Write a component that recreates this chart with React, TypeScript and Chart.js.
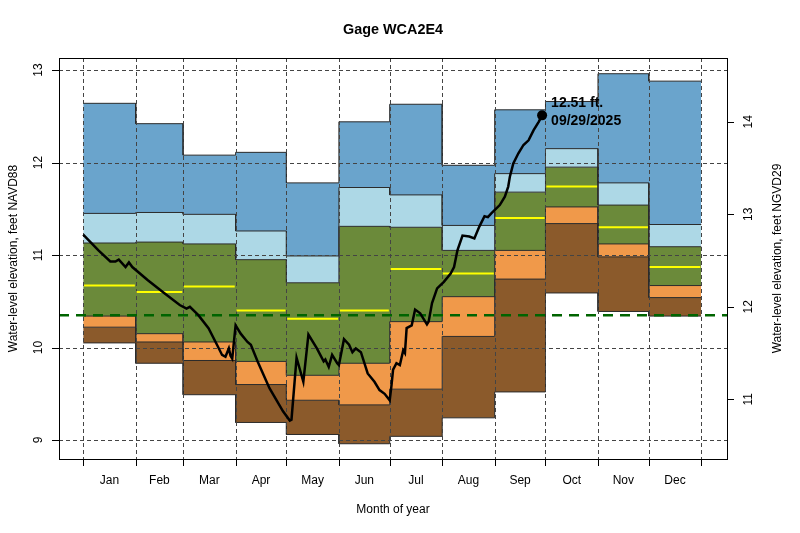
import { useEffect, useRef } from "react";
import { Chart, registerables } from "chart.js";

Chart.register(...registerables);

const FONT = '"Liberation Sans", Arial, Helvetica, sans-serif';

// month boxes (day of year, Jan 1 = 1)
const months = ["Jan", "Feb", "Mar", "Apr", "May", "Jun", "Jul", "Aug", "Sep", "Oct", "Nov", "Dec"];
const monthStarts = [1, 32, 60, 91, 121, 152, 182, 213, 244, 274, 305, 335, 366];

// monthly statistics, feet NAVD88
const maxVals = [12.64, 12.42, 12.08, 12.11, 11.78, 12.44, 12.63, 11.97, 12.57, 12.66, 12.96, 12.88];
const p90Vals = [11.45, 11.46, 11.44, 11.26, 10.99, 11.73, 11.65, 11.32, 11.88, 12.15, 11.78, 11.33];
const p75Vals = [11.13, 11.14, 11.12, 10.95, 10.7, 11.31, 11.3, 11.05, 11.68, 11.95, 11.54, 11.09];
const medianVals = [10.67, 10.6, 10.66, 10.4, 10.31, 10.4, 10.85, 10.8, 11.4, 11.74, 11.3, 10.87];
const p25Vals = [10.34, 10.15, 10.06, 9.85, 9.7, 9.83, 10.28, 10.55, 11.05, 11.52, 11.12, 10.67];
const p10Vals = [10.22, 10.06, 9.86, 9.6, 9.43, 9.38, 9.55, 10.12, 10.74, 11.34, 10.98, 10.54];
const minVals = [10.05, 9.83, 9.49, 9.19, 9.06, 8.96, 9.04, 9.24, 9.52, 10.59, 10.39, 10.34];

// 2025 daily water level
const dailyDays = [
  1, 10, 17, 20, 22, 26, 28, 30, 39, 48, 58, 62, 64, 69, 75, 80, 83, 85, 87, 88, 89, 91, 94, 98, 100,
  104, 111, 119, 123, 124, 127, 131, 134, 139, 143, 144, 146, 148, 151, 152, 155, 158, 160, 162, 165,
  169, 173, 176, 179, 182, 183, 184, 186, 188, 190, 191, 192, 195, 197, 200, 204, 205, 207, 210, 214,
  218, 220, 222, 225, 229, 232, 235, 238, 240, 242, 247, 250, 252, 253, 255, 258, 261, 264, 267, 270, 272,
];
const dailyLevels = [
  11.22, 11.05, 10.93, 10.93, 10.95, 10.87, 10.92, 10.87, 10.73, 10.6, 10.46, 10.42, 10.44, 10.35, 10.21,
  10.03, 9.92, 9.9, 9.99, 9.91, 9.88, 10.24, 10.15, 10.06, 10.03, 9.85, 9.56, 9.31, 9.21, 9.22, 9.89, 9.63,
  10.14, 9.99, 9.85, 9.87, 9.79, 9.92, 9.83, 9.81, 10.09, 10.03, 9.95, 9.99, 9.95, 9.72, 9.63, 9.54, 9.5,
  9.43, 9.58, 9.76, 9.83, 9.81, 9.97, 9.94, 10.21, 10.24, 10.41, 10.37, 10.25, 10.28, 10.48, 10.64, 10.71,
  10.8, 10.87, 11.05, 11.21, 11.2, 11.18, 11.31, 11.42, 11.41, 11.45, 11.54, 11.63, 11.74, 11.85, 11.99,
  12.1, 12.19, 12.24, 12.35, 12.44, 12.51,
];

const lastDay = 272;
const lastLevel = 12.51;
const lastLabel = ["12.51 ft.", "09/29/2025"];
const referenceLevel = 10.35;

const leftTicks = [9, 10, 11, 12, 13];
const rightTicks = [11, 12, 13, 14];
const ngvdOffset = 1.56; // NGVD29 = NAVD88 + offset

const xMin = -13.3;
const xMax = 381.2;

const steps = (vals: number[]) =>
  vals.flatMap((v, i) => [
    { x: monthStarts[i], y: v },
    { x: monthStarts[i + 1], y: v },
  ]);

const rPlugin = {
  id: "rstyle",
  beforeDatasetDraw(chart: any, args: any) {
    if (chart.data.datasets[args.index].label !== "Median") return;
    const { ctx, chartArea: a, scales } = chart;
    ctx.save();
    ctx.strokeStyle = "#444";
    ctx.lineWidth = 1;
    ctx.setLineDash([4, 3]);
    ctx.beginPath();
    for (const t of leftTicks) {
      const py = Math.round(scales.y.getPixelForValue(t)) + 0.5;
      ctx.moveTo(a.left, py);
      ctx.lineTo(a.right, py);
    }
    for (const d of monthStarts) {
      const px = Math.round(scales.x.getPixelForValue(d)) + 0.5;
      ctx.moveTo(px, a.top);
      ctx.lineTo(px, a.bottom);
    }
    ctx.stroke();
    ctx.restore();
  },
  afterDraw(chart: any) {
    const { ctx, chartArea: a, scales } = chart;
    const xs = scales.x;
    const ys = scales.y;
    ctx.save();
    ctx.strokeStyle = "#000";
    ctx.lineWidth = 1;
    ctx.strokeRect(Math.round(a.left) + 0.5, Math.round(a.top) + 0.5, Math.round(a.right - a.left), Math.round(a.bottom - a.top));

    ctx.fillStyle = "#000";
    ctx.font = `12px ${FONT}`;
    ctx.textAlign = "center";
    ctx.textBaseline = "middle";

    // left axis
    ctx.beginPath();
    for (const t of leftTicks) {
      const py = Math.round(ys.getPixelForValue(t)) + 0.5;
      ctx.moveTo(a.left - 7, py);
      ctx.lineTo(a.left, py);
    }
    // right axis
    for (const t of rightTicks) {
      const py = Math.round(ys.getPixelForValue(t - ngvdOffset)) + 0.5;
      ctx.moveTo(a.right, py);
      ctx.lineTo(a.right + 7, py);
    }
    // bottom axis
    for (const d of monthStarts) {
      const px = Math.round(xs.getPixelForValue(d)) + 0.5;
      ctx.moveTo(px, a.bottom);
      ctx.lineTo(px, a.bottom + 7);
    }
    ctx.stroke();

    for (const t of leftTicks) {
      ctx.save();
      ctx.translate(a.left - 20, ys.getPixelForValue(t));
      ctx.rotate(-Math.PI / 2);
      ctx.fillText(String(t), 0, 0);
      ctx.restore();
    }
    for (const t of rightTicks) {
      ctx.save();
      ctx.translate(a.right + 22, ys.getPixelForValue(t - ngvdOffset));
      ctx.rotate(-Math.PI / 2);
      ctx.fillText(String(t), 0, 0);
      ctx.restore();
    }
    months.forEach((m, i) => {
      ctx.fillText(m, xs.getPixelForValue((monthStarts[i] + monthStarts[i + 1]) / 2), a.bottom + 22);
    });

    const midX = (a.left + a.right) / 2;
    const midY = (a.top + a.bottom) / 2;
    ctx.fillText("Month of year", midX, a.bottom + 51);
    ctx.save();
    ctx.translate(14, midY);
    ctx.rotate(-Math.PI / 2);
    ctx.fillText("Water-level elevation, feet NAVD88", 0, 0);
    ctx.restore();
    ctx.save();
    ctx.translate(a.right + 51, midY);
    ctx.rotate(-Math.PI / 2);
    ctx.fillText("Water-level elevation, feet NGVD29", 0, 0);
    ctx.restore();

    ctx.font = `bold 14.4px ${FONT}`;
    ctx.fillText("Gage WCA2E4", midX, 30);

    // last value label
    ctx.font = `bold 14px ${FONT}`;
    ctx.textAlign = "left";
    const lx = xs.getPixelForValue(lastDay) + 9;
    const ly = ys.getPixelForValue(lastLevel);
    ctx.fillText(lastLabel[0], lx, ly - 12);
    ctx.fillText(lastLabel[1], lx, ly + 6);
    ctx.restore();
  },
};

export default function App() {
  const chartRef = useRef<HTMLCanvasElement>(null);
  const chartInstance = useRef<Chart | null>(null);

  useEffect(() => {
    if (!chartRef.current) return;
    const ctx = chartRef.current.getContext("2d");
    if (!ctx) return;

    if (chartInstance.current) {
      chartInstance.current.destroy();
    }

    const band = (label: string, vals: number[], color: string, order: number, fill: any) => ({
      label,
      data: steps(vals),
      borderColor: "#2b2b2b",
      borderWidth: 1,
      backgroundColor: color,
      fill,
      pointRadius: 0,
      tension: 0,
      order,
    });

    const medianData = medianVals.flatMap((v, i) => [
      { x: monthStarts[i] + 0.5, y: v },
      { x: monthStarts[i + 1] - 0.5, y: v },
      { x: monthStarts[i + 1], y: null },
    ]);

    chartInstance.current = new Chart(ctx, {
      type: "line",
      data: {
        datasets: [
          band("Minimum", minVals, "rgba(0,0,0,0)", 20, false),
          band("10th percentile", p10Vals, "#8b5a2b", 19, "-1"),
          band("25th percentile", p25Vals, "#f0994a", 18, "-1"),
          band("75th percentile", p75Vals, "#6b8a3a", 17, "-1"),
          band("90th percentile", p90Vals, "#add8e6", 16, "-1"),
          band("Maximum", maxVals, "#6aa4cc", 15, "-1"),
          {
            label: "Median",
            data: medianData as any,
            borderColor: "#ffff00",
            borderWidth: 2,
            pointRadius: 0,
            spanGaps: false,
            fill: false,
            order: 5,
          },
          {
            label: "Reference",
            data: [
              { x: xMin, y: referenceLevel },
              { x: xMax, y: referenceLevel },
            ],
            borderColor: "#006400",
            borderWidth: 2.5,
            borderDash: [10, 7],
            pointRadius: 0,
            fill: false,
            order: 4,
          },
          {
            label: "2025",
            data: dailyDays.map((d, i) => ({ x: d, y: dailyLevels[i] })),
            borderColor: "#000",
            borderWidth: 2.5,
            pointRadius: 0,
            tension: 0,
            fill: false,
            order: 3,
          },
          {
            label: "Latest",
            data: [{ x: lastDay, y: lastLevel }],
            showLine: false,
            pointRadius: 5,
            pointBackgroundColor: "#000",
            pointBorderWidth: 0,
            fill: false,
            order: 2,
          },
        ],
      },
      options: {
        responsive: true,
        maintainAspectRatio: false,
        animation: false,
        layout: { padding: { left: 59, right: 73, top: 58, bottom: 74 } },
        plugins: {
          legend: { display: false },
          tooltip: { enabled: false },
          filler: { drawTime: "beforeDatasetsDraw" },
        },
        scales: {
          x: { type: "linear", min: xMin, max: xMax, display: false },
          y: { type: "linear", min: 8.795, max: 13.13, display: false },
        },
      },
      plugins: [rPlugin],
    });

    return () => {
      if (chartInstance.current) {
        chartInstance.current.destroy();
        chartInstance.current = null;
      }
    };
  }, []);

  return (
    <div style={{ position: "absolute", left: 0, top: 0, width: 800, height: 533, background: "#fff" }}>
      <canvas ref={chartRef} />
    </div>
  );
}
